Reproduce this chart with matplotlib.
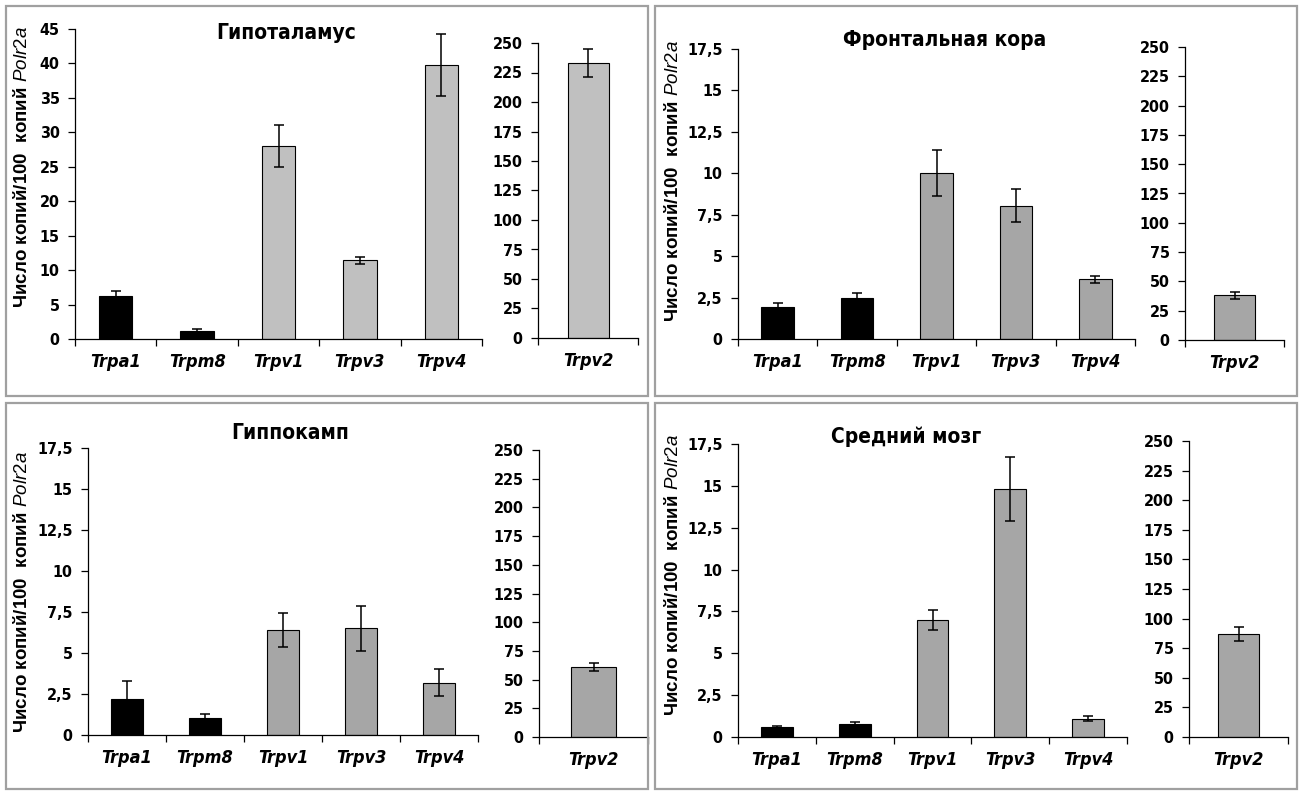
import matplotlib
matplotlib.use("Agg")
import matplotlib.pyplot as plt
from matplotlib.patches import Rectangle
from matplotlib.ticker import FuncFormatter, FixedLocator
import numpy as np

plt.rcParams['font.family'] = ['Liberation Sans', 'DejaVu Sans']
plt.rcParams['mathtext.fontset'] = 'custom'
plt.rcParams['mathtext.it'] = 'Liberation Sans:italic'
plt.rcParams['mathtext.rm'] = 'Liberation Sans'

# ---- data ----
genes_main = ['Trpa1', 'Trpm8', 'Trpv1', 'Trpv3', 'Trpv4']
gene_side = 'Trpv2'
regions = ['Гипоталамус', 'Фронтальная кора', 'Гиппокамп', 'Средний мозг']
ylabel_text = 'Число копий/100  копий $Polr2a$'

hyp_vals = [6.3, 1.2, 28.0, 11.4, 39.8]
hyp_err = [0.7, 0.2, 3.1, 0.5, 4.5]
hyp_trpv2 = [233.0]
hyp_trpv2_err = [12.0]

front_vals = [1.95, 2.45, 10.0, 8.05, 3.6]
front_err = [0.25, 0.3, 1.4, 1.0, 0.2]
front_trpv2 = [38.0]
front_trpv2_err = [3.0]

hip_vals = [2.2, 1.05, 6.4, 6.5, 3.2]
hip_err = [1.1, 0.25, 1.03, 1.35, 0.85]
hip_trpv2 = [61.0]
hip_trpv2_err = [3.5]

mid_vals = [0.6, 0.8, 7.0, 14.8, 1.1]
mid_err = [0.05, 0.07, 0.6, 1.9, 0.15]
mid_trpv2 = [87.0]
mid_trpv2_err = [6.0]

main_ticks_hyp = [0, 5, 10, 15, 20, 25, 30, 35, 40, 45]
main_ticks_other = [0, 2.5, 5, 7.5, 10, 12.5, 15, 17.5]
side_ticks = [0, 25, 50, 75, 100, 125, 150, 175, 200, 225, 250]

W, H = 1302, 792
fig = plt.figure(figsize=(W / 100, H / 100), dpi=100)
fig.patch.set_facecolor('white')


def rect(x0, x1, ytop, ybot):
    return [x0 / W, 1 - ybot / H, (x1 - x0) / W, (ybot - ytop) / H]


# panel frames
for (x0, y0, x1, y1) in [(6, 6, 648, 396), (655, 6, 1297, 396),
                         (6, 403, 648, 789), (655, 403, 1297, 789)]:
    fig.add_artist(Rectangle((x0 / W, 1 - y1 / H), (x1 - x0) / W, (y1 - y0) / H,
                             transform=fig.transFigure, fill=False,
                             edgecolor='#a0a0a0', linewidth=1.6))

comma = FuncFormatter(lambda v, p: ('%g' % v).replace('.', ','))

panels = [
    dict(title=regions[0], vals=hyp_vals, err=hyp_err, sv=hyp_trpv2, se=hyp_trpv2_err,
         gray='#c0c0c0', ymax=45, yt=main_ticks_hyp,
         main=rect(75, 482, 29, 339), side=rect(538, 638, 43, 338),
         title_xy=(286, 33), ylab_xy=(22, 167)),
    dict(title=regions[1], vals=front_vals, err=front_err, sv=front_trpv2, se=front_trpv2_err,
         gray='#a6a6a6', ymax=17.5, yt=main_ticks_other,
         main=rect(738, 1135, 49, 339), side=rect(1185, 1284, 47, 340),
         title_xy=(945, 40), ylab_xy=(673, 181)),
    dict(title=regions[2], vals=hip_vals, err=hip_err, sv=hip_trpv2, se=hip_trpv2_err,
         gray='#a6a6a6', ymax=17.5, yt=main_ticks_other,
         main=rect(88, 478, 448, 735), side=rect(539, 648, 450, 737),
         title_xy=(290, 433), ylab_xy=(22, 592)),
    dict(title=regions[3], vals=mid_vals, err=mid_err, sv=mid_trpv2, se=mid_trpv2_err,
         gray='#a6a6a6', ymax=17.5, yt=main_ticks_other,
         main=rect(738, 1127, 444, 737), side=rect(1189, 1288, 441, 737),
         title_xy=(906, 437), ylab_xy=(673, 575)),
]

tick_font = dict(family=['DejaVu Sans'], stretch='condensed', weight='bold', size=11.5)
xlab_font = dict(family=['DejaVu Sans'], stretch='condensed',
                 weight='bold', style='italic', size=13)


def style_axes(ax):
    for s in ['top', 'right']:
        ax.spines[s].set_visible(False)
    for s in ['left', 'bottom']:
        ax.spines[s].set_linewidth(0.9)
    ax.tick_params(axis='y', direction='out', length=5, width=0.9, pad=6)
    ax.tick_params(axis='x', which='major', direction='out', length=5, width=0.9)
    ax.tick_params(axis='x', which='minor', length=0, pad=10)
    for lab in ax.get_yticklabels():
        lab.set(**tick_font)
    for lab in ax.get_xticklabels(minor=True):
        lab.set(**xlab_font)


for p in panels:
    ax = fig.add_axes(p['main'])
    n = len(genes_main)
    x = np.arange(n) + 0.5
    colors = ['black', 'black'] + [p['gray']] * (n - 2)
    ax.bar(x, p['vals'], width=0.41, color=colors, edgecolor='black', linewidth=0.8, zorder=2)
    ax.errorbar(x, p['vals'], yerr=p['err'], fmt='none', ecolor='black',
                elinewidth=1.1, capsize=3.3, capthick=1.1, zorder=3)
    ax.set_xlim(0, n)
    ax.set_ylim(0, p['ymax'])
    ax.set_yticks(p['yt'])
    ax.yaxis.set_major_formatter(comma)
    ax.xaxis.set_major_locator(FixedLocator(np.arange(n + 1)))
    ax.xaxis.set_major_formatter(FuncFormatter(lambda v, q: ''))
    ax.set_xticks(x, minor=True)
    ax.set_xticklabels(genes_main, minor=True)
    style_axes(ax)

    ax2 = fig.add_axes(p['side'])
    ax2.bar([0.5], p['sv'], width=0.41, color=p['gray'], edgecolor='black', linewidth=0.8, zorder=2)
    ax2.errorbar([0.5], p['sv'], yerr=p['se'], fmt='none', ecolor='black',
                 elinewidth=1.1, capsize=3.3, capthick=1.1, zorder=3)
    ax2.set_xlim(0, 1)
    ax2.set_ylim(0, 250)
    ax2.set_yticks(side_ticks)
    ax2.yaxis.set_major_formatter(comma)
    ax2.xaxis.set_major_locator(FixedLocator([0, 1]))
    ax2.xaxis.set_major_formatter(FuncFormatter(lambda v, q: ''))
    ax2.set_xticks([0.5], minor=True)
    ax2.set_xticklabels([gene_side], minor=True)
    style_axes(ax2)

    tx, ty = p['title_xy']
    fig.text(tx / W, 1 - ty / H, p['title'], ha='center', va='center',
             family=['DejaVu Sans'], stretch='condensed', weight='bold', size=15)
    lx, ly = p['ylab_xy']
    fig.text(lx / W, 1 - ly / H, ylabel_text, ha='center', va='center', rotation=90,
             family=['Liberation Sans', 'DejaVu Sans'], weight='bold', size=13.5)

fig.savefig('out.png', dpi=100, facecolor='white')
